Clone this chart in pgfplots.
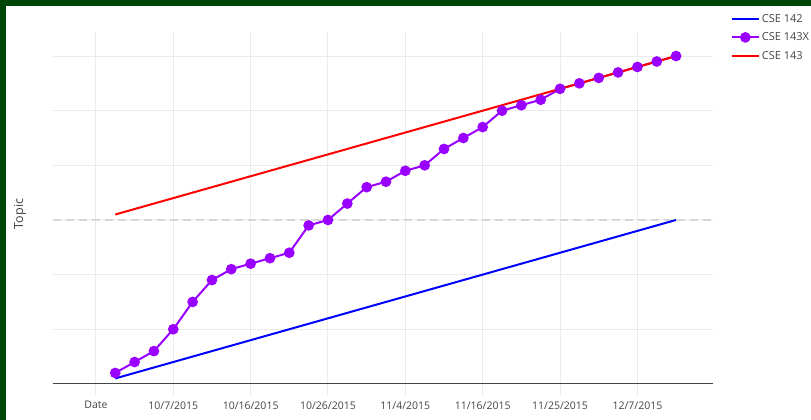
\documentclass[border=0pt]{standalone}
\usepackage{fontspec}
\setmainfont{Open Sans}
\usepackage{pgfplots}
\pgfplotsset{compat=1.18}
\definecolor{cblue}{RGB}{0,0,255}
\definecolor{cpurple}{RGB}{153,0,255}
\definecolor{cred}{RGB}{255,0,0}
\definecolor{tickgray}{RGB}{68,68,68}
\definecolor{gridc}{RGB}{235,235,235}
\definecolor{dashc}{RGB}{215,215,215}
\definecolor{framec}{RGB}{0,68,8}
\begin{document}
\begin{tikzpicture}[x=1pt,y=1pt]
\fill[white] (0,0) rectangle (811,420);
\fill[framec] (0,414) rectangle (811,420);
\fill[framec] (0,0) rectangle (6,420);
\begin{axis}[
  at={(53pt,24pt)}, anchor=south west,
  width=660pt, height=364pt, scale only axis,
  xmin=-2.22, xmax=31.9, ymin=-0.22, ymax=6.44,
  axis line style={draw=none},
  tick style={draw=none},
  xtick={0,4,8,12,16,20,24,28},
  xticklabels={Date,10/7/2015,10/16/2015,10/26/2015,11/4/2015,11/16/2015,11/25/2015,12/7/2015},
  ytick={1,2,3,4,5,6},
  yticklabels={},
  grid=major,
  major grid style={gridc, line width=1pt},
  xticklabel style={font=\fontsize{10.5}{12}\selectfont, text=tickgray, yshift=-2pt},
  ylabel={Topic},
  every axis y label/.style={at={(axis description cs:0,0.5)}, xshift=-33pt, rotate=90, anchor=center,
    font=\fontsize{12.5}{14}\selectfont, text=tickgray},
  legend style={draw=none, fill=none, at={(axis description cs:1.027,1.055)}, anchor=north west,
    font=\fontsize{11}{13}\selectfont, text=tickgray, row sep=5pt, inner sep=0pt},
  legend cell align=left,
  legend image code/.code={\draw[mark repeat=2,mark phase=2,#1] plot coordinates {(0pt,0pt) (13.5pt,0pt) (27pt,0pt)};},
]
\addplot[dashc, line width=1.2pt, dash pattern=on 8pt off 5pt, forget plot] coordinates {(-2.22,3) (31.9,3)};
\addplot[tickgray, line width=1pt, forget plot] coordinates {(-2.22,0) (31.9,0)};
\addplot[cblue, line width=2pt] coordinates {
(1,0.1) (2,0.2) (3,0.3) (4,0.4) (5,0.5) (6,0.6) (7,0.7) (8,0.8) (9,0.9) (10,1.0)
(11,1.1) (12,1.2) (13,1.3) (14,1.4) (15,1.5) (16,1.6) (17,1.7) (18,1.8) (19,1.9) (20,2.0)
(21,2.1) (22,2.2) (23,2.3) (24,2.4) (25,2.5) (26,2.6) (27,2.7) (28,2.8) (29,2.9) (30,3.0)};
\addlegendentry{CSE 142}
\addplot[cpurple, line width=2pt, mark=*, mark size=4.3pt, mark options={solid}] coordinates {
(1,0.2) (2,0.4) (3,0.6) (4,1.0) (5,1.5) (6,1.9) (7,2.1) (8,2.2) (9,2.3) (10,2.4)
(11,2.9) (12,3.0) (13,3.3) (14,3.6) (15,3.7) (16,3.9) (17,4.0) (18,4.3) (19,4.5) (20,4.7)
(21,5.0) (22,5.1) (23,5.2) (24,5.4) (25,5.5) (26,5.6) (27,5.7) (28,5.8) (29,5.9) (30,6.0)};
\addlegendentry{CSE 143X}
\addplot[cred, line width=2pt] coordinates {
(1,3.1) (2,3.2) (3,3.3) (4,3.4) (5,3.5) (6,3.6) (7,3.7) (8,3.8) (9,3.9) (10,4.0)
(11,4.1) (12,4.2) (13,4.3) (14,4.4) (15,4.5) (16,4.6) (17,4.7) (18,4.8) (19,4.9) (20,5.0)
(21,5.1) (22,5.2) (23,5.3) (24,5.4) (25,5.5) (26,5.6) (27,5.7) (28,5.8) (29,5.9) (30,6.0)};
\addlegendentry{CSE 143}
\addplot[cpurple, only marks, mark=*, mark size=4.3pt, forget plot] coordinates {
(24,5.4) (25,5.5) (26,5.6) (27,5.7) (28,5.8) (29,5.9) (30,6.0)};
\end{axis}
\end{tikzpicture}
\end{document}
